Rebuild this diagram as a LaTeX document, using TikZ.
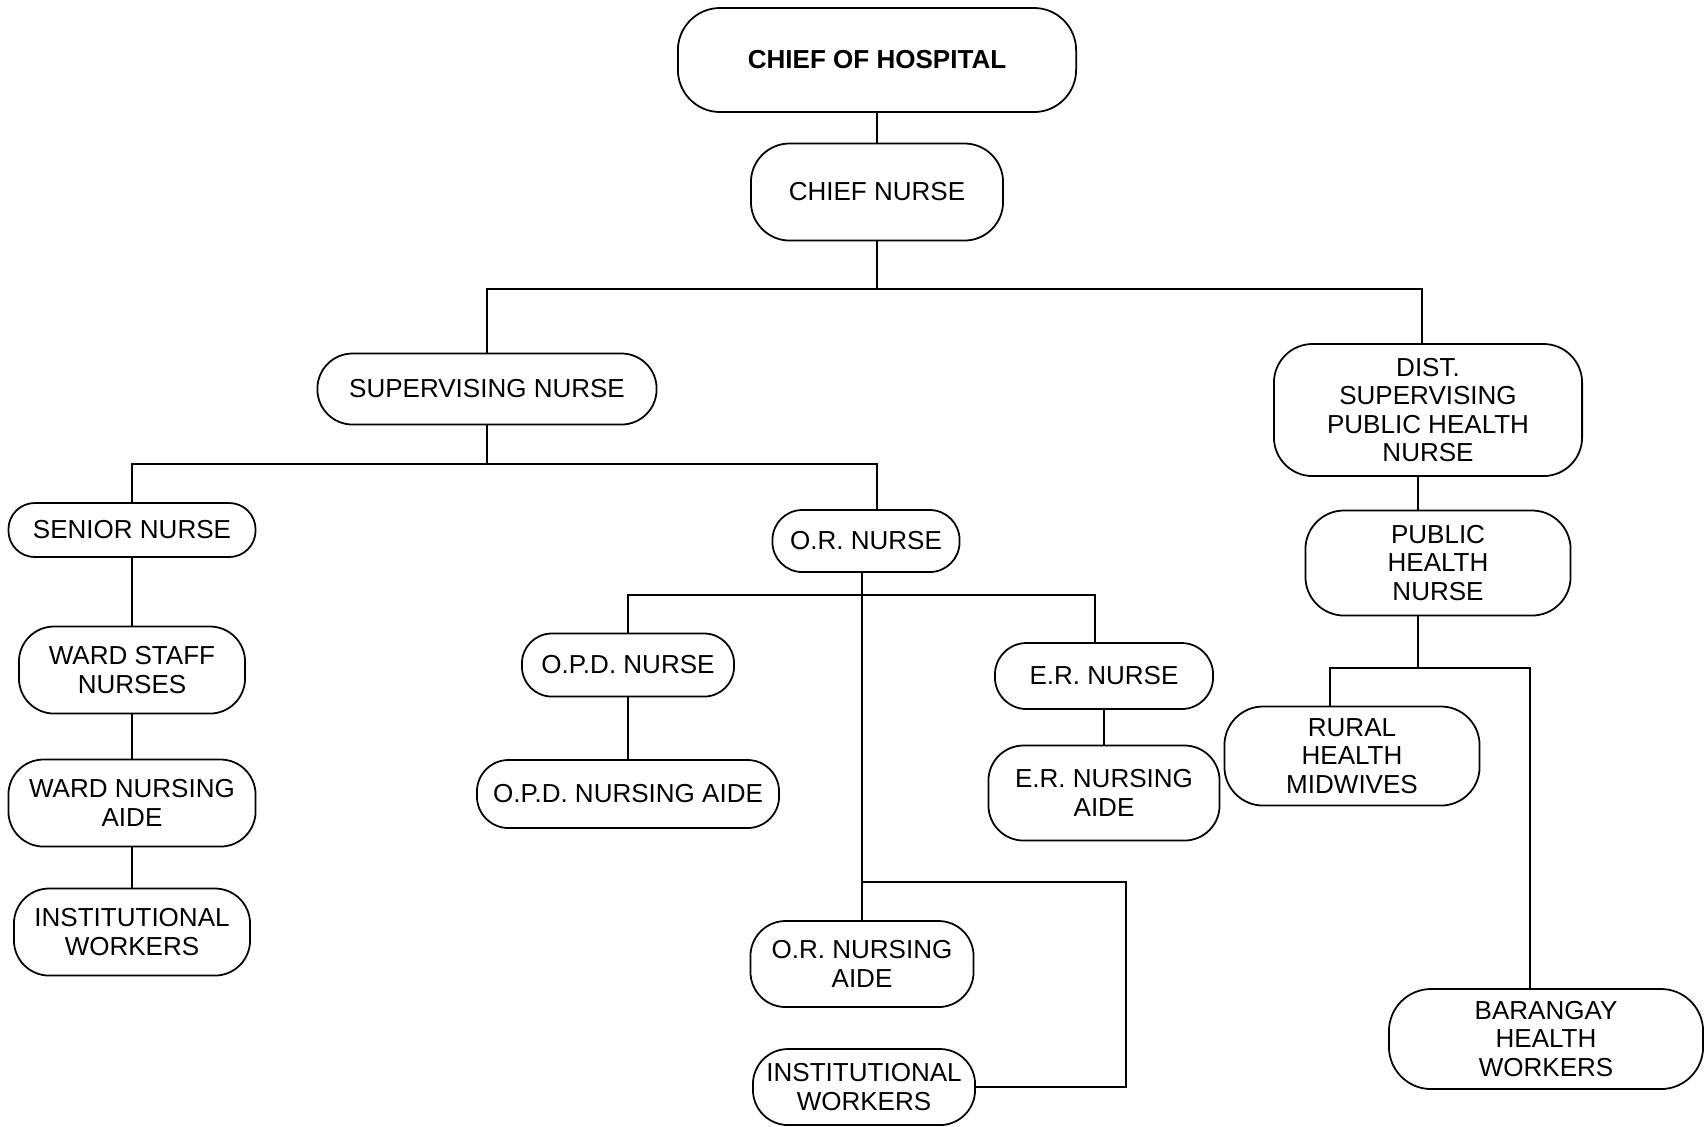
\documentclass[tikz,border=0pt]{standalone}
\usepackage{fontspec}
\setmainfont{Liberation Sans}
\usetikzlibrary{positioning}

\tikzset{
  post/.style={draw, line width=0.5pt, rounded corners=10pt, align=center, inner sep=1pt,
    font=\fontsize{7.4}{8.1}\selectfont},
  link/.style={line width=0.5pt},
}

\begin{document}
\begin{tikzpicture}[x=0.01cm, y=-0.01cm]
	\useasboundingbox (0,0) rectangle (1704,1126);

	% top of the chart
	\node[post, minimum width=3.98cm, minimum height=1.04cm, rounded corners=12pt] (hosp) at (877,60) {\bfseries CHIEF OF HOSPITAL};
	\node[post, minimum width=2.52cm, minimum height=0.97cm, rounded corners=11pt] (chiefn) at (877,192) {CHIEF NURSE};

	\node[post, minimum width=3.39cm, minimum height=0.71cm] (supv) at (487,389) {SUPERVISING NURSE};
	\node[post, minimum width=3.08cm, minimum height=1.32cm, rounded corners=11pt] (dist) at (1428,410) {DIST.\\SUPERVISING\\PUBLIC HEALTH\\NURSE};

	% hospital side
	\node[post, minimum width=2.47cm, minimum height=0.54cm, rounded corners=7.5pt] (senior) at (132,530) {SENIOR NURSE};
	\node[post, minimum width=2.26cm, minimum height=0.87cm] (wardstaff) at (132,670) {WARD STAFF\\NURSES};
	\node[post, minimum width=2.47cm, minimum height=0.87cm] (wardaide) at (132,803) {WARD NURSING\\AIDE};
	\node[post, minimum width=2.36cm, minimum height=0.87cm] (instl) at (132,932) {INSTITUTIONAL\\WORKERS};

	\node[post, minimum width=1.87cm, minimum height=0.62cm, rounded corners=8.5pt] (ornurse) at (866,541) {O.R. NURSE};
	\node[post, minimum width=2.12cm, minimum height=0.63cm, rounded corners=8.5pt] (opd) at (628,665) {O.P.D. NURSE};
	\node[post, minimum width=3.02cm, minimum height=0.68cm, rounded corners=9pt] (opdaide) at (628,794) {O.P.D. NURSING AIDE};
	\node[post, minimum width=2.18cm, minimum height=0.66cm, rounded corners=9pt] (er) at (1104,676) {E.R. NURSE};
	\node[post, minimum width=2.31cm, minimum height=0.95cm] (eraide) at (1104,793) {E.R. NURSING\\AIDE};
	\node[post, minimum width=2.23cm, minimum height=0.86cm] (oraide) at (862,964) {O.R. NURSING\\AIDE};
	\node[post, minimum width=2.22cm, minimum height=0.76cm] (instb) at (864,1087) {INSTITUTIONAL\\WORKERS};

	% public health side
	\node[post, minimum width=2.65cm, minimum height=1.05cm, rounded corners=11pt] (phn) at (1438,563) {PUBLIC\\HEALTH\\NURSE};
	\node[post, minimum width=2.55cm, minimum height=0.99cm, rounded corners=11pt] (rural) at (1352,756) {RURAL\\HEALTH\\MIDWIVES};
	\node[post, minimum width=3.14cm, minimum height=1.00cm, rounded corners=12pt] (brgy) at (1546,1039) {BARANGAY\\HEALTH\\WORKERS};

	% branch points
	\coordinate (b1) at (877,289);
	\coordinate (b2) at (487,464);
	\coordinate (b3) at (862,595);
	\coordinate (b4) at (862,882);
	\coordinate (b5) at (1126,1087);
	\coordinate (b6) at (1418,668);

	\draw[link] (hosp) -- (chiefn);
	\draw[link] (chiefn) -- (b1);
	\draw[link] (supv) |- (b1) -| ([xshift=-0.06cm]dist.north);
	\draw[link] (supv) -- (b2);
	\draw[link] (senior) |- (b2) -| ([xshift=0.11cm]ornurse.north);
	\draw[link] (senior) -- (wardstaff) -- (wardaide) -- (instl);
	\draw[link] ([xshift=-0.04cm]ornurse.south) -- (b4) -- (oraide);
	\draw[link] (opd) |- (b3) -| ([xshift=-0.09cm]er.north);
	\draw[link] (opd) -- (opdaide);
	\draw[link] (er) -- (eraide);
	\draw[link] (b4) -| (b5) -- (instb);
	\draw[link] ([xshift=-0.1cm]dist.south) -- ([xshift=-0.1cm]dist.south |- phn.north);
	\draw[link] (phn.south -| b6) -- (b6);
	\draw[link] ([xshift=-0.22cm]rural.north) |- (b6) -| ([xshift=-0.16cm]brgy.north);
\end{tikzpicture}
\end{document}
